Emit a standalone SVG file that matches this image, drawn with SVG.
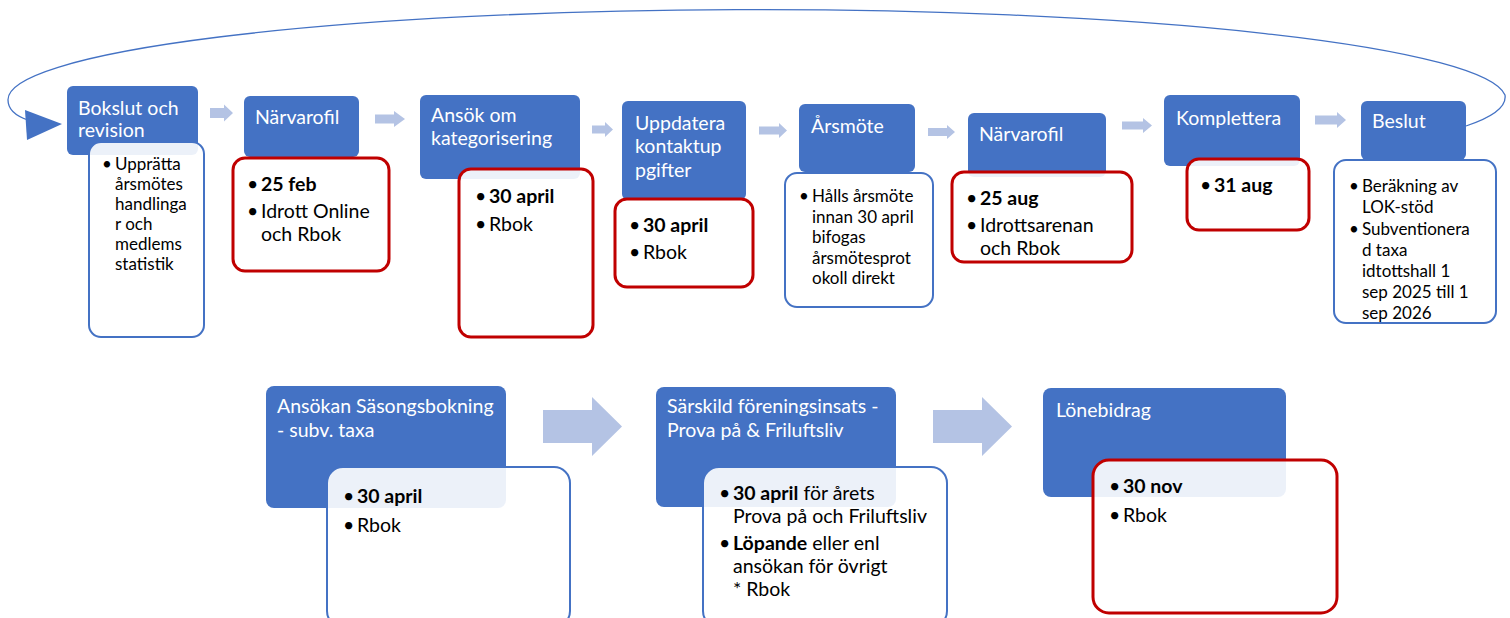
<svg xmlns="http://www.w3.org/2000/svg" width="1510" height="618" viewBox="0 0 1510 618">
<style>
.hdr{fill:#4472C4}
.det{fill:#FFFFFF;fill-opacity:0.9;stroke-width:2}
.blue{stroke:#4472C4}
.red{stroke:#C00000;stroke-width:3}
.ht{font-family:Lato,"Liberation Sans",sans-serif;font-size:19.5px;fill:#FFFFFF}
.dt{font-family:Lato,"Liberation Sans",sans-serif;font-size:17px;fill:#000000}
.dl{font-family:Lato,"Liberation Sans",sans-serif;font-size:19.5px;fill:#000000}
.b{font-weight:bold}
.arr{fill:#B4C3E4}
.loop{fill:none;stroke:#4472C4;stroke-width:1.3}
</style>
<rect width="1510" height="618" fill="#FFFFFF"/>
<g id="connectors">
  <path class="loop" d="M1466,126 C1490,118 1507,108 1505,95 A749 90 0 0 0 8,100 C8,110 16,116 28,120"/>
  <polygon fill="#4472C4" points="25,110 62,124 27,140"/>
  <polygon class="arr" points="210,108 224,108 224,104.5 233,113 224,121.5 224,118 210,118"/>
  <polygon class="arr" points="375,114.5 394,114.5 394,111 405,119 394,127 394,123.5 375,123.5"/>
  <polygon class="arr" points="592,125.5 605,125.5 605,122 613,129.5 605,137 605,133.5 592,133.5"/>
  <polygon class="arr" points="759,126.5 779,126.5 779,123 787,130.5 779,138 779,134.5 759,134.5"/>
  <polygon class="arr" points="928,128 947,128 947,125 955,132 947,139 947,136 928,136"/>
  <polygon class="arr" points="1122,121.5 1143,121.5 1143,118 1152,125.5 1143,133 1143,129.5 1122,129.5"/>
  <polygon class="arr" points="1315,115.5 1337,115.5 1337,112 1346,120 1337,128 1337,124.5 1315,124.5"/>
  <polygon class="arr" points="543,410 592,410 592,397 622,426.5 592,456 592,443 543,443"/>
  <polygon class="arr" points="933,410 982,410 982,397 1012,426.5 982,456 982,443 933,443"/>
</g>
<g id="node-bokslut">
  <rect class="hdr" x="67" y="86" width="131" height="69" rx="6"/>
  <text class="ht" x="78" y="115">Bokslut och</text>
  <text class="ht" x="78" y="137">revision</text>
  <rect class="det blue" x="89" y="142" width="115" height="195" rx="12"/>
  <text class="dt" x="102" y="170">•</text>
  <text class="dt" x="115" y="170">Upprätta</text>
  <text class="dt" x="115" y="190">årsmötes</text>
  <text class="dt" x="115" y="210">handlinga</text>
  <text class="dt" x="115" y="230">r och</text>
  <text class="dt" x="115" y="250">medlems</text>
  <text class="dt" x="115" y="270">statistik</text>
</g>
<g id="node-narvarofil1">
  <rect class="hdr" x="244" y="96" width="115" height="61" rx="6"/>
  <text class="ht" x="255" y="124">Närvarofil</text>
  <rect class="det red" x="233" y="158" width="156" height="113" rx="12"/>
  <text class="dl" x="247" y="191">•</text>
  <text class="dl b" x="261" y="191">25 feb</text>
  <text class="dl" x="247" y="218">•</text>
  <text class="dl" x="261" y="218">Idrott Online</text>
  <text class="dl" x="261" y="241">och Rbok</text>
</g>
<g id="node-ansok">
  <rect class="hdr" x="420" y="95" width="160" height="84" rx="6"/>
  <text class="ht" x="431" y="122">Ansök om</text>
  <text class="ht" x="431" y="145">kategorisering</text>
  <rect class="det red" x="459" y="169" width="134" height="168" rx="12"/>
  <text class="dl" x="475" y="203">•</text>
  <text class="dl b" x="489" y="203">30 april</text>
  <text class="dl" x="475" y="231">•</text>
  <text class="dl" x="489" y="231">Rbok</text>
</g>
<g id="node-uppdatera">
  <rect class="hdr" x="622" y="101" width="124" height="99" rx="6"/>
  <text class="ht" x="635" y="130">Uppdatera</text>
  <text class="ht" x="635" y="153">kontaktup</text>
  <text class="ht" x="635" y="177">pgifter</text>
  <rect class="det red" x="615" y="199" width="138" height="88" rx="12"/>
  <text class="dl" x="629" y="232">•</text>
  <text class="dl b" x="643" y="232">30 april</text>
  <text class="dl" x="629" y="259">•</text>
  <text class="dl" x="643" y="259">Rbok</text>
</g>
<g id="node-arsmote">
  <rect class="hdr" x="799" y="104" width="116" height="68" rx="6"/>
  <text class="ht" x="811" y="133">Årsmöte</text>
  <rect class="det blue" x="785" y="173" width="148" height="134" rx="12"/>
  <text class="dt" x="799" y="202">•</text>
  <text class="dt" x="812" y="202">Hålls årsmöte</text>
  <text class="dt" x="812" y="222.5">innan 30 april</text>
  <text class="dt" x="812" y="243">bifogas</text>
  <text class="dt" x="812" y="263.5">årsmötesprot</text>
  <text class="dt" x="812" y="284">okoll direkt</text>
</g>
<g id="node-narvarofil2">
  <rect class="hdr" x="968" y="113" width="138" height="64" rx="6"/>
  <text class="ht" x="979" y="141">Närvarofil</text>
  <rect class="det red" x="952" y="172" width="180" height="90" rx="12"/>
  <text class="dl" x="966" y="205">•</text>
  <text class="dl b" x="980" y="205">25 aug</text>
  <text class="dl" x="966" y="232">•</text>
  <text class="dl" x="980" y="232">Idrottsarenan</text>
  <text class="dl" x="980" y="255">och Rbok</text>
</g>
<g id="node-komplettera">
  <rect class="hdr" x="1164" y="95" width="136" height="71" rx="6"/>
  <text class="ht" x="1176" y="125">Komplettera</text>
  <rect class="det red" x="1187" y="159" width="122" height="71" rx="12"/>
  <text class="dl" x="1200" y="192">•</text>
  <text class="dl b" x="1214" y="192">31 aug</text>
</g>
<g id="node-beslut">
  <rect class="hdr" x="1361" y="101" width="105" height="59" rx="6"/>
  <text class="ht" x="1372" y="128">Beslut</text>
  <rect class="det blue" x="1334" y="160" width="162" height="163" rx="12"/>
  <text class="dt" x="1349" y="192">•</text>
  <text class="dt" x="1362" y="192">Beräkning av</text>
  <text class="dt" x="1362" y="213">LOK-stöd</text>
  <text class="dt" x="1349" y="235">•</text>
  <text class="dt" x="1362" y="235">Subventionera</text>
  <text class="dt" x="1362" y="256">d taxa</text>
  <text class="dt" x="1362" y="277">idtottshall 1</text>
  <text class="dt" x="1362" y="298">sep 2025 till 1</text>
  <text class="dt" x="1362" y="319">sep 2026</text>
</g>
<g id="node-sasongsbokning">
  <rect class="hdr" x="266" y="386" width="240" height="122" rx="8"/>
  <text class="ht" x="277" y="413">Ansökan Säsongsbokning</text>
  <text class="ht" x="277" y="437">- subv. taxa</text>
  <rect class="det blue" x="327" y="467" width="243" height="160" rx="16"/>
  <text class="dl" x="343" y="503">•</text>
  <text class="dl b" x="357" y="503">30 april</text>
  <text class="dl" x="343" y="532">•</text>
  <text class="dl" x="357" y="532">Rbok</text>
</g>
<g id="node-foreningsinsats">
  <rect class="hdr" x="656" y="387" width="240" height="120" rx="8"/>
  <text class="ht" x="667" y="413">Särskild föreningsinsats -</text>
  <text class="ht" x="667" y="437">Prova på &amp; Friluftsliv</text>
  <rect class="det blue" x="703" y="467" width="244" height="160" rx="16"/>
  <text class="dl" x="719" y="500">•</text>
  <text class="dl" x="733" y="500"><tspan class="b">30 april</tspan> för årets</text>
  <text class="dl" x="733" y="523">Prova på och Friluftsliv</text>
  <text class="dl" x="719" y="550">•</text>
  <text class="dl" x="733" y="550"><tspan class="b">Löpande</tspan> eller enl</text>
  <text class="dl" x="733" y="573">ansökan för övrigt</text>
  <text class="dl" x="733" y="596">* Rbok</text>
</g>
<g id="node-lonebidrag">
  <rect class="hdr" x="1043" y="388" width="243" height="109" rx="8"/>
  <text class="ht" x="1056" y="417">Lönebidrag</text>
  <rect class="det red" x="1093" y="460" width="244" height="153" rx="16"/>
  <text class="dl" x="1109" y="493">•</text>
  <text class="dl b" x="1123" y="493">30 nov</text>
  <text class="dl" x="1109" y="522">•</text>
  <text class="dl" x="1123" y="522">Rbok</text>
</g>
</svg>
